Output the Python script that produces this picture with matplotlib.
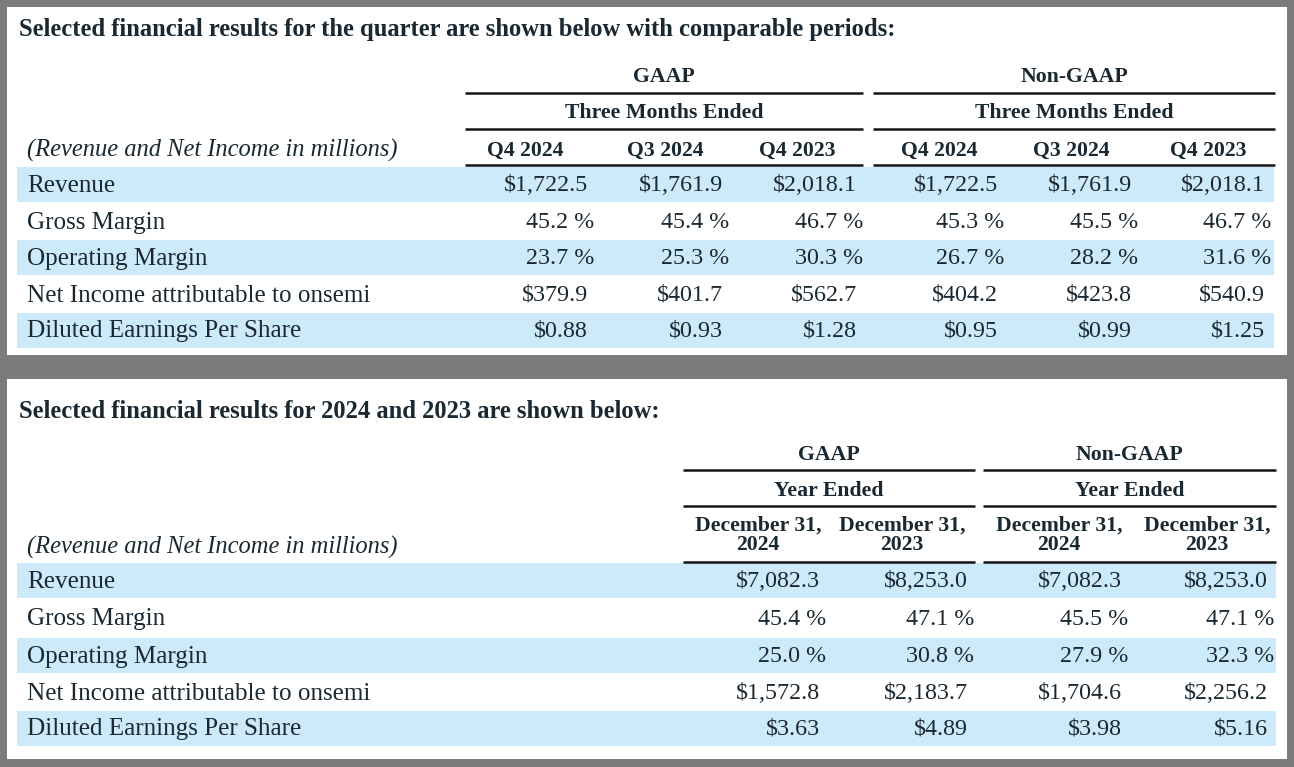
import matplotlib
matplotlib.use("Agg")
import matplotlib.pyplot as plt
from matplotlib.patches import Rectangle

# ---------------- data ----------------
metrics = ["Revenue", "Gross Margin", "Operating Margin",
           "Net Income attributable to onsemi", "Diluted Earnings Per Share"]
metric_kind = ["money", "pct", "pct", "money", "eps"]

quarter_cols = ["Q4 2024", "Q3 2024", "Q4 2023"]
year_cols = [("December 31,", "2024"), ("December 31,", "2023")]

q_gaap_revenue = [1722.5, 1761.9, 2018.1]
q_gaap_gross_margin = [45.2, 45.4, 46.7]
q_gaap_operating_margin = [23.7, 25.3, 30.3]
q_gaap_net_income = [379.9, 401.7, 562.7]
q_gaap_eps = [0.88, 0.93, 1.28]

q_nongaap_revenue = [1722.5, 1761.9, 2018.1]
q_nongaap_gross_margin = [45.3, 45.5, 46.7]
q_nongaap_operating_margin = [26.7, 28.2, 31.6]
q_nongaap_net_income = [404.2, 423.8, 540.9]
q_nongaap_eps = [0.95, 0.99, 1.25]

y_gaap_revenue = [7082.3, 8253.0]
y_gaap_gross_margin = [45.4, 47.1]
y_gaap_operating_margin = [25.0, 30.8]
y_gaap_net_income = [1572.8, 2183.7]
y_gaap_eps = [3.63, 4.89]

y_nongaap_revenue = [7082.3, 8253.0]
y_nongaap_gross_margin = [45.5, 47.1]
y_nongaap_operating_margin = [27.9, 32.3]
y_nongaap_net_income = [1704.6, 2256.2]
y_nongaap_eps = [3.98, 5.16]

title_q = "Selected financial results for the quarter are shown below with comparable periods:"
title_y = "Selected financial results for 2024 and 2023 are shown below:"
units_note = "(Revenue and Net Income in millions)"

# ---------------- style ----------------
W, H = 1294, 767
BG = "#7b7b7b"
BAND = "#cdeafa"
TXT = "#1a2831"
SERIF = ["Liberation Serif", "DejaVu Serif"]
DY = 1.5  # small downward nudge of text

fig = plt.figure(figsize=(W / 100, H / 100), dpi=100)
fig.patch.set_facecolor(BG)
ax = fig.add_axes([0, 0, 1, 1])
ax.set_xlim(0, W)
ax.set_ylim(H, 0)
ax.axis("off")

renderer = fig.canvas.get_renderer()


def fit_size(s, target_px, weight="normal", style="normal"):
    t = ax.text(0, 0, s, fontsize=10, family=SERIF, fontweight=weight, fontstyle=style)
    w = t.get_window_extent(renderer).width
    t.remove()
    return 10 * target_px / w


FS_TITLE = fit_size(title_q, 885, weight="bold")
FS_LABEL = fit_size("Net Income attributable to onsemi", 342)
FS_ITAL = fit_size(units_note, 372, style="italic")
FS_HEAD = fit_size("Three Months Ended", 199, weight="bold")
FS_VAL = fit_size("$1,722.5", 84)


def txt(x, y, s, size, ha="left", weight="normal", style="normal", color=TXT):
    ax.text(x, y + DY, s, fontsize=size, family=SERIF, fontweight=weight, fontstyle=style,
            ha=ha, va="center", color=color)


def fmt(v, kind):
    if kind == "money":
        return "$" + f"{v:,.1f}"
    if kind == "eps":
        return f"${v:.2f}"
    return f"{v:.1f} %"


def hline(x0, x1, y):
    ax.plot([x0, x1], [y, y], color="#151515", lw=1.8, solid_capstyle="butt")


def panel(top, bottom):
    ax.add_patch(Rectangle((7, top), 1280, bottom - top, facecolor="white", edgecolor="none"))


PCT_SHIFT = 6

# ---------------- panel 1: quarter ----------------
panel(7, 355)
txt(19, 28, title_q, FS_TITLE, weight="bold")

q_groups = [("GAAP", [q_gaap_revenue, q_gaap_gross_margin, q_gaap_operating_margin,
                      q_gaap_net_income, q_gaap_eps]),
            ("Non-GAAP", [q_nongaap_revenue, q_nongaap_gross_margin, q_nongaap_operating_margin,
                          q_nongaap_net_income, q_nongaap_eps])]
q_spans = [(465, 863), (873, 1275)]
q_right = [[588, 723, 857], [998, 1132, 1265]]
q_head_center = [[525, 665, 797], [939, 1071, 1208]]
q_rows = [184, 221, 257, 294, 330]

for i in (0, 2, 4):
    ax.add_patch(Rectangle((17, q_rows[i] - 17.5), 1257, 35, facecolor=BAND, edgecolor="none"))

for g, (gname, series) in enumerate(q_groups):
    x0, x1 = q_spans[g]
    cx = (x0 + x1) / 2
    txt(cx, 76, gname, FS_HEAD, ha="center", weight="bold")
    hline(x0, x1, 93)
    txt(cx, 112, "Three Months Ended", FS_HEAD, ha="center", weight="bold")
    hline(x0, x1, 129)
    for c, col in enumerate(quarter_cols):
        txt(q_head_center[g][c], 149, col, FS_HEAD, ha="center", weight="bold")
    hline(x0, x1, 165)
    for r, vals in enumerate(series):
        kind = metric_kind[r]
        for c, v in enumerate(vals):
            xr = q_right[g][c] + (PCT_SHIFT if kind == "pct" else 0)
            txt(xr, q_rows[r], fmt(v, kind), FS_VAL, ha="right")

txt(27, 149, units_note, FS_ITAL, style="italic")
for r, m in enumerate(metrics):
    txt(27, q_rows[r], m, FS_LABEL)

# ---------------- panel 2: year ----------------
panel(379, 759)
txt(19, 410, title_y, FS_TITLE, weight="bold")

y_groups = [("GAAP", [y_gaap_revenue, y_gaap_gross_margin, y_gaap_operating_margin,
                      y_gaap_net_income, y_gaap_eps]),
            ("Non-GAAP", [y_nongaap_revenue, y_nongaap_gross_margin, y_nongaap_operating_margin,
                          y_nongaap_net_income, y_nongaap_eps])]
y_spans = [(683, 975), (983, 1276)]
y_right = [[820, 968], [1122, 1268]]
y_head_center = [[758, 902], [1059, 1207]]
y_rows = [580, 618, 655, 692, 728]

for i in (0, 2, 4):
    ax.add_patch(Rectangle((17, y_rows[i] - 17.5), 1259, 35, facecolor=BAND, edgecolor="none"))

for g, (gname, series) in enumerate(y_groups):
    x0, x1 = y_spans[g]
    cx = (x0 + x1) / 2
    txt(cx, 454, gname, FS_HEAD, ha="center", weight="bold")
    hline(x0, x1, 470)
    txt(cx, 490, "Year Ended", FS_HEAD, ha="center", weight="bold")
    hline(x0, x1, 506)
    for c, (l1, l2) in enumerate(year_cols):
        txt(y_head_center[g][c], 524, l1, FS_HEAD, ha="center", weight="bold")
        txt(y_head_center[g][c], 544, l2, FS_HEAD, ha="center", weight="bold")
    hline(x0, x1, 562)
    for r, vals in enumerate(series):
        kind = metric_kind[r]
        for c, v in enumerate(vals):
            xr = y_right[g][c] + (PCT_SHIFT if kind == "pct" else 0)
            txt(xr, y_rows[r], fmt(v, kind), FS_VAL, ha="right")

txt(27, 546, units_note, FS_ITAL, style="italic")
for r, m in enumerate(metrics):
    txt(27, y_rows[r], m, FS_LABEL)

fig.savefig("out.png", dpi=100, facecolor=BG)
